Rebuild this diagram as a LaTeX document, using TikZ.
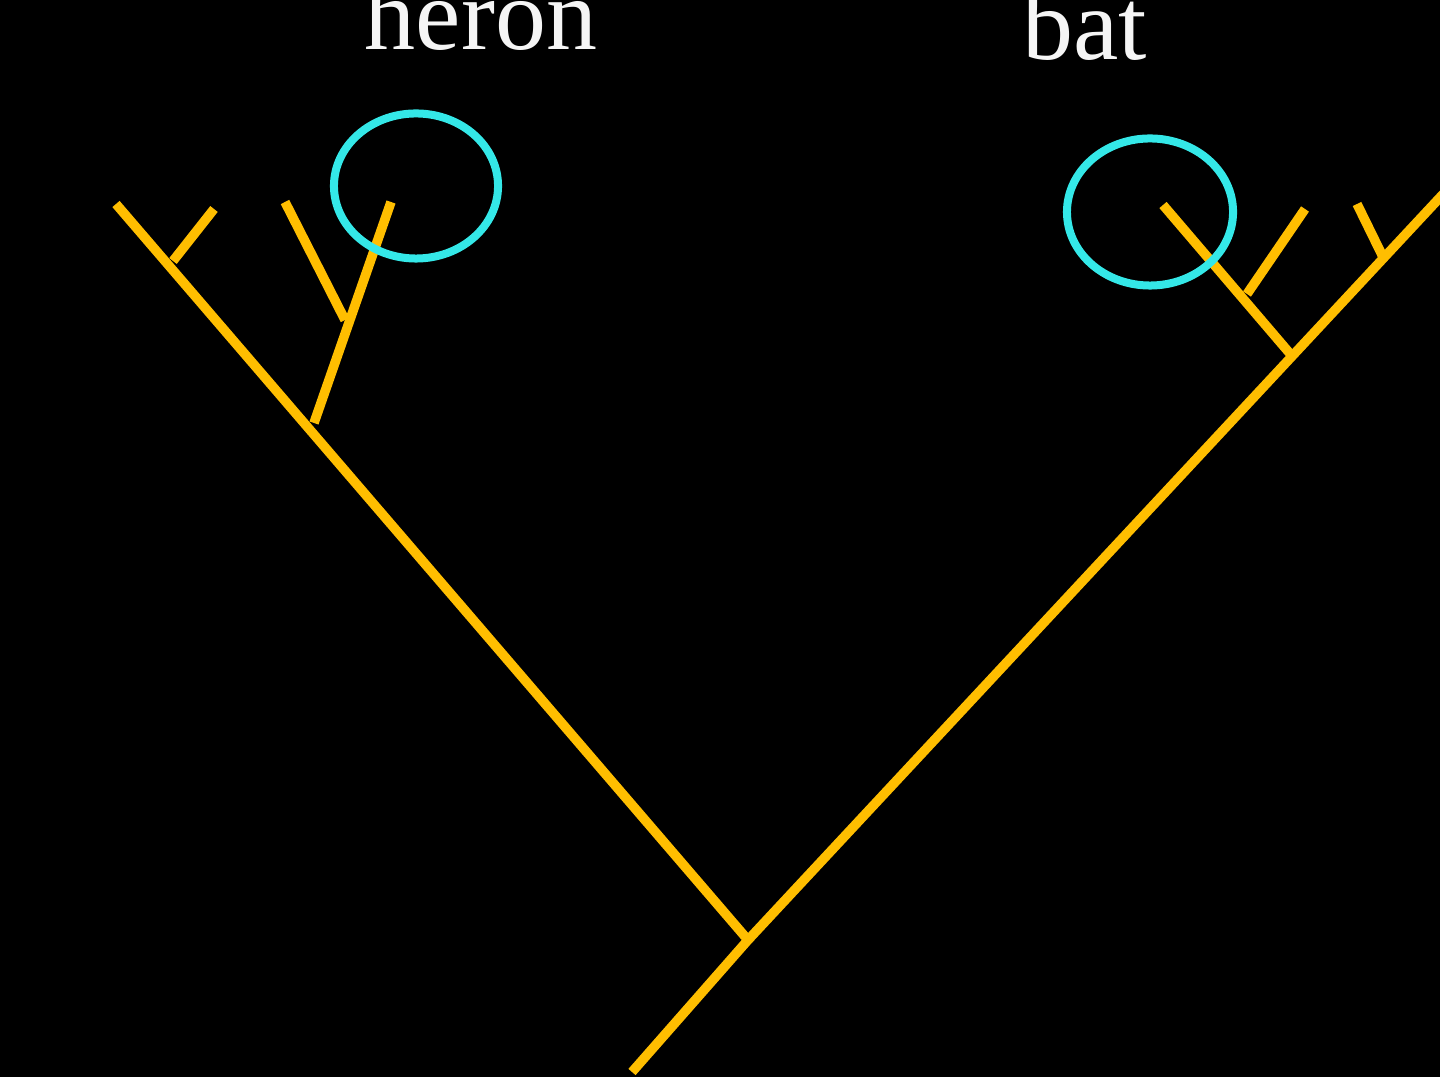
\documentclass[tikz,border=0pt]{standalone}
\usepackage{fontspec}
\setmainfont{Liberation Serif}
\usepackage{xcolor}
\usetikzlibrary{shapes.geometric}
\definecolor{branch}{RGB}{255,190,0}
\definecolor{ring}{RGB}{52,232,232}
\begin{document}
\begin{tikzpicture}[x=0.01cm,y=-0.01cm]
                % background and page
                \fill[black] (0,0) rectangle (1440,1077);
                \clip (0,0) rectangle (1440,1077);
                % tree points
                \coordinate (root) at (632,1072);
                \coordinate (split) at (748,940);
                \coordinate (lefttip) at (116,204);
                \coordinate (righttip) at (1460,176);
                \coordinate (lbase) at (314,423);
                \coordinate (ljoin) at (345,320);
                \coordinate (herontip) at (391,202);
                \coordinate (lside) at (285,202);
                \coordinate (lfork) at (173,261);
                \coordinate (lforktip) at (214,209);
                \coordinate (rbase) at (1292,356);
                \coordinate (rjoin) at (1247,294);
                \coordinate (battip) at (1163,205);
                \coordinate (rside) at (1305,209);
                \coordinate (rfork) at (1383,257);
                \coordinate (rforktip) at (1357,204);
                % branches
                \draw[branch, line width=0.095cm] (root) -- (split) -- (lefttip);
                \draw[branch, line width=0.095cm] (split) -- (righttip);
                \foreach \a/\b in {lbase/herontip, ljoin/lside, lfork/lforktip, rbase/battip, rjoin/rside, rfork/rforktip} {
                    \draw[branch, line width=0.095cm] (\a) -- (\b);
                }
                % rings
                \node[ellipse, draw=ring, line width=0.08cm, inner sep=0pt, minimum width=1.64cm, minimum height=1.45cm] (heronring) at (416,186) {};
                \node[ellipse, draw=ring, line width=0.08cm, inner sep=0pt, minimum width=1.66cm, minimum height=1.47cm] (batring) at (1150,212) {};
                % labels
                \node[anchor=base, text=white!92!gray, font=\fontsize{29}{35}\selectfont] (heron) at (481,50) {heron};
                \node[anchor=base, text=white!92!gray, font=\fontsize{29}{35}\selectfont] (bat) at (1085,60) {bat};
            \end{tikzpicture}
\end{document}
